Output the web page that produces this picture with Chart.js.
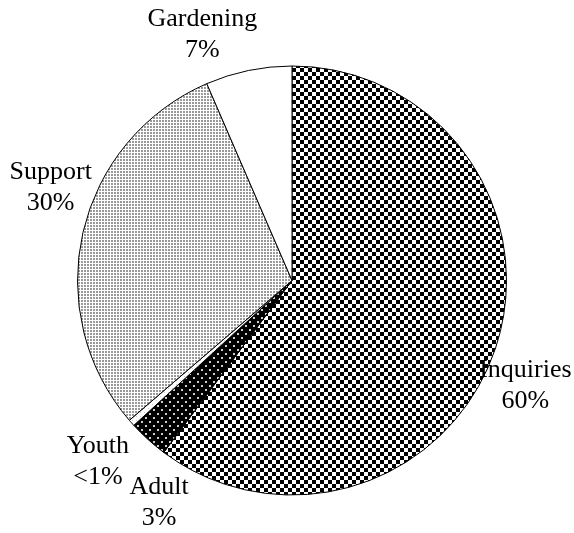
<!DOCTYPE html>
<html>
<head>
<meta charset="utf-8">
<script src="https://cdn.jsdelivr.net/npm/chart.js@4/dist/chart.umd.min.js"></script>
<style>
  html, body { margin: 0; padding: 0; background: #fff; }
  #wrap { width: 574px; height: 533px; }
</style>
</head>
<body>
<div id="wrap"><canvas id="pieChart" width="574" height="533"></canvas></div>
<script>
// data (clockwise from 12 o'clock)
const categories = ['Inquiries', 'Adult', 'Youth', 'Support', 'Gardening'];
const shares = [60.2, 3.0, 0.5, 29.8, 6.5];
const shareLabels = ['60%', '3%', '<1%', '30%', '7%'];

// label block centres, in units of the pie radius from its centre
const labelOffsets = [[1.088, 0.49], [-0.62, 1.035], [-0.905, 0.84], [-1.125, -0.435], [-0.418, -1.15]];

function tile(size, draw) {
  const c = document.createElement('canvas');
  c.width = size; c.height = size;
  const g = c.getContext('2d');
  draw(g);
  return g.createPattern(c, 'repeat');
}

const checker = tile(8, g => {
  g.fillStyle = '#fff'; g.fillRect(0, 0, 8, 8);
  g.fillStyle = '#000';
  g.fillRect(0, 0, 4, 4);
  g.fillRect(4, 4, 4, 4);
});
const darkDots = tile(8, g => {
  g.fillStyle = '#000'; g.fillRect(0, 0, 8, 8);
  g.fillStyle = '#ccc';
  g.fillRect(1, 1, 2, 2);
  g.fillRect(5, 5, 2, 2);
});
const greyDots = tile(3, g => {
  g.fillStyle = '#fff'; g.fillRect(0, 0, 3, 3);
  g.fillStyle = '#999';
  g.fillRect(0, 0, 2, 2);
});
const faintDots = tile(4, g => {
  g.fillStyle = '#fff'; g.fillRect(0, 0, 4, 4);
  g.fillStyle = '#ccc';
  g.fillRect(0, 0, 1, 1);
});

const sliceLabels = {
  id: 'sliceLabels',
  afterDraw(chart) {
    const arc = chart.getDatasetMeta(0).data[0];
    if (!arc) return;
    const { x, y, outerRadius } = arc.getProps(['x', 'y', 'outerRadius'], true);
    const c = chart.ctx;
    c.save();
    c.font = '26px "Liberation Serif", "Times New Roman", serif';
    c.fillStyle = '#000';
    c.textAlign = 'center';
    c.textBaseline = 'middle';
    categories.forEach((name, i) => {
      const lx = x + labelOffsets[i][0] * outerRadius;
      const ly = y + labelOffsets[i][1] * outerRadius;
      c.fillText(name, lx, ly - 15);
      c.fillText(shareLabels[i], lx, ly + 16);
    });
    c.restore();
  }
};

const ctx = document.getElementById('pieChart').getContext('2d');
new Chart(ctx, {
  type: 'pie',
  data: {
    labels: categories,
    datasets: [{
      data: shares,
      backgroundColor: [checker, darkDots, faintDots, greyDots, '#fff'],
      borderColor: '#000',
      borderWidth: 1
    }]
  },
  options: {
    responsive: false,
    animation: false,
    layout: { padding: { left: 77, right: 67, top: 65, bottom: 37 } },
    plugins: {
      legend: { display: false },
      tooltip: { enabled: false }
    }
  },
  plugins: [sliceLabels]
});
</script>
</body>
</html>
